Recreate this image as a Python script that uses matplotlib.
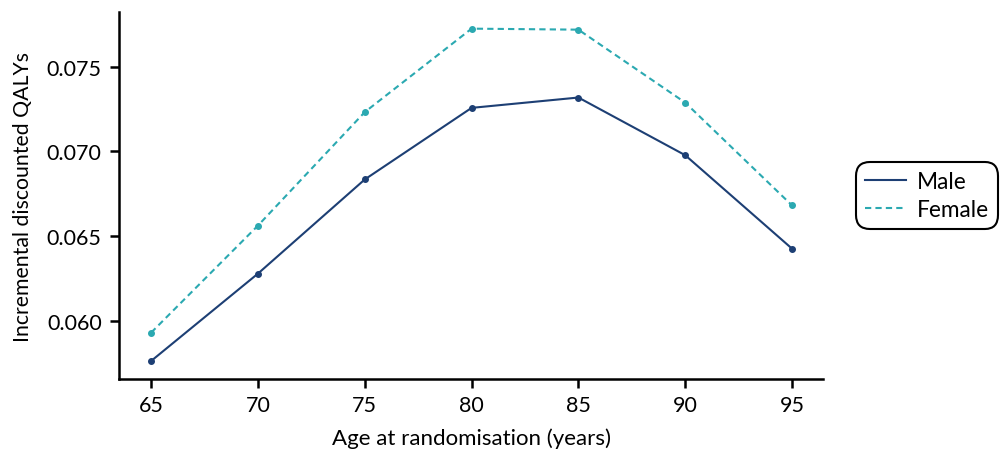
import matplotlib
matplotlib.use("Agg")
import matplotlib.pyplot as plt
from matplotlib.lines import Line2D

ages = [65, 70, 75, 80, 85, 90, 95]
male = [0.05765, 0.06280, 0.06835, 0.07257, 0.07318, 0.06978, 0.06427]
female = [0.05932, 0.06563, 0.07232, 0.07724, 0.07718, 0.07288, 0.06682]

plt.rcParams['font.family'] = ['Lato', 'DejaVu Sans']
fig = plt.figure(figsize=(10.02, 4.52), dpi=100)
ax = fig.add_axes([0.1188, 0.1593, 0.7026, 0.8119])

male_c = '#1d3f74'
fem_c = '#2ba9b1'
ax.plot(ages, male, color=male_c, lw=1.5, marker='o', ms=4, label='Male')
ax.plot(ages, female, color=fem_c, lw=1.5, ls=(0, (3, 2)), marker='o', ms=4, label='Female')

ax.set_xlim(63.5, 96.45)
ax.set_ylim(0.05659, 0.07822)
ax.set_xticks(ages)
ax.set_yticks([0.060, 0.065, 0.070, 0.075])
ax.set_yticklabels(['0.060', '0.065', '0.070', '0.075'])
ax.spines['top'].set_visible(False)
ax.spines['right'].set_visible(False)
for s in ['left', 'bottom']:
    ax.spines[s].set_linewidth(1.8)
ax.tick_params(axis='both', labelsize=15.5, width=1.8, length=6.5, color='black')
ax.tick_params(axis='y', pad=6)
ax.tick_params(axis='x', pad=5)
ax.set_xlabel('Age at randomisation (years)', fontsize=16, labelpad=9)
ax.set_ylabel('Incremental discounted QALYs', fontsize=15.3, labelpad=10)

handles = [Line2D([], [], color=male_c, lw=1.5),
           Line2D([], [], color=fem_c, lw=1.5, ls=(0, (3, 2)))]
leg = ax.legend(handles, ['Male', 'Female'], loc='center left',
                bbox_to_anchor=(1.031, 0.50), fontsize=16.3,
                frameon=True, fancybox=True, edgecolor='black', handlelength=1.8,
                borderpad=0.4, labelspacing=0.3, handletextpad=0.5,
                borderaxespad=0.5)
frame = leg.get_frame()
frame.set_linewidth(1.5)
frame.set_alpha(1)
frame.set_boxstyle('round', pad=0, rounding_size=0.6)

fig.savefig('out.png', dpi=100)
